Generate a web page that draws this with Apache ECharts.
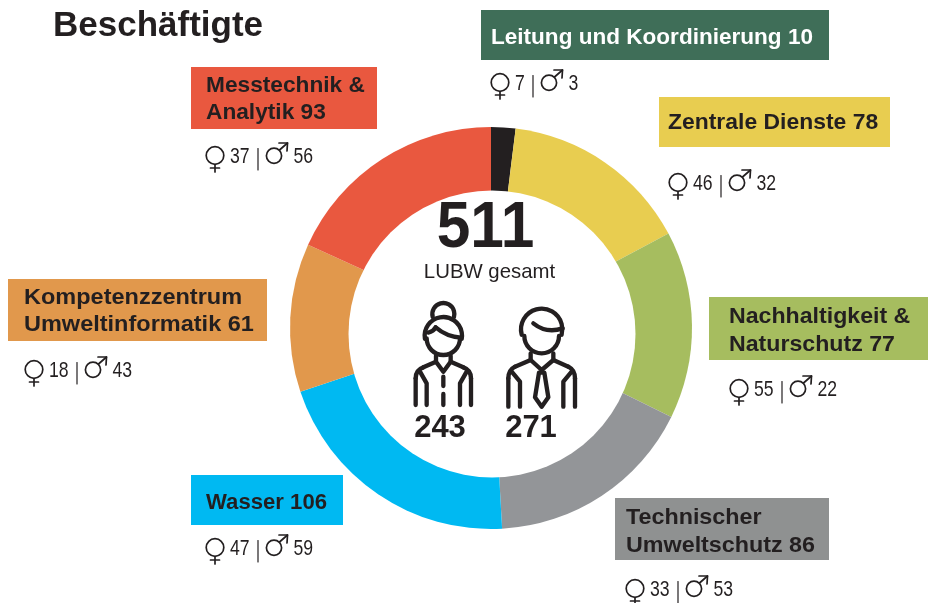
<!DOCTYPE html>
<html>
<head>
<meta charset="utf-8">
<script src="https://cdn.jsdelivr.net/npm/echarts@6/dist/echarts.min.js"></script>
<style>
html,body{margin:0;padding:0;background:#fff}
#main{width:928px;height:603px}
</style>
</head>
<body>
<div id="main"></div>
<script>
// ring order, clockwise from the top
var categories = ['Leitung und Koordinierung', 'Zentrale Dienste', 'Nachhaltigkeit &\nNaturschutz', 'Technischer\nUmweltschutz', 'Wasser', 'Kompetenzzentrum\nUmweltinformatik', 'Messtechnik &\nAnalytik'];
var totals = [10, 78, 77, 86, 106, 61, 93];
var female = [7, 46, 55, 33, 47, 18, 37];
var male = [3, 32, 22, 53, 59, 43, 56];
var colors = ['#231f20', '#e8cd50', '#a6bd5f', '#939598', '#00b9f2', '#e1984c', '#e9583f'];
var boxColors = ['#3f6e58', '#e8cd50', '#a6bd5f', '#8f9191', '#00b9f2', '#e1984c', '#e9583f'];
var labelColors = ['#ffffff', '#231f20', '#231f20', '#231f20', '#231f20', '#231f20', '#231f20'];
var grandTotal = 511;
var womenTotal = 243;
var menTotal = 271;

// box: x, y, w, h, text x, text y  -  legend: x of the female sign, y
var boxes = [[481, 10, 348, 50, 491, 38], [659, 97, 231, 50, 668, 123], [709, 297, 219, 63, 729, 330.5], [615, 498, 214, 62, 626, 531.5], [191, 475, 152, 50, 206, 503], [8, 279, 259, 62, 24, 311], [191, 67, 186, 62, 206, 99]];
var labelStretch = [0.994, 1.01, 1.02, 1.027, 0.976, 1.036, 1];
var legends = [[500, 84], [678, 184], [739, 390], [635, 590], [215, 549], [34, 371], [215, 157]];

var dark = '#231f20';
var sans = '"Liberation Sans", Arial, sans-serif';
var iconWidth = 13;

function lineStyle(w) {
    return { fill: null, stroke: dark, lineWidth: w, lineCap: 'round', lineJoin: 'round' };
}

function txt(x, y, text, font, color, align) {
    return {
        type: 'text',
        x: x,
        y: y,
        style: { text: text, font: font, fill: color || dark, align: align || 'left', verticalAlign: 'middle', lineHeight: 27.5 }
    };
}

// condensed look, there is no narrow font installed
function narrowTxt(x, y, text, size, align, sx) {
    var t = txt(x, y, text, size + 'px ' + sans, dark, align);
    t.scaleX = sx;
    return t;
}

// icon pieces, in a 3x grid
function poly(points) {
    return { type: 'polyline', shape: { points: points }, style: lineStyle(iconWidth) };
}
function curve(x1, y1, cx, cy, x2, y2) {
    return { type: 'bezierCurve', shape: { x1: x1, y1: y1, cpx1: cx, cpy1: cy, x2: x2, y2: y2 }, style: lineStyle(iconWidth) };
}
function arc(cx, cy, r, from, to) {
    return { type: 'arc', shape: { cx: cx, cy: cy, r: r, startAngle: from * Math.PI / 180, endAngle: to * Math.PI / 180, clockwise: true }, style: lineStyle(iconWidth) };
}

// little female and male signs next to the counts
function femaleSign(x, y) {
    return [
        { type: 'circle', shape: { cx: x, cy: y - 1.5, r: 8.8 }, style: lineStyle(1.7) },
        { type: 'line', shape: { x1: x, y1: y + 7.5, x2: x, y2: y + 15 }, style: lineStyle(1.7) },
        { type: 'line', shape: { x1: x - 4.5, y1: y + 11, x2: x + 4.5, y2: y + 11 }, style: lineStyle(1.7) }
    ];
}

function maleSign(x, y) {
    return [
        { type: 'circle', shape: { cx: x, cy: y - 1.3, r: 7.6 }, style: lineStyle(1.7) },
        { type: 'line', shape: { x1: x + 5.5, y1: y - 7, x2: x + 13.5, y2: y - 14 }, style: lineStyle(1.7) },
        { type: 'polyline', shape: { points: [[x + 5, y - 14], [x + 13.5, y - 14], [x + 13, y - 6]] }, style: lineStyle(1.7) }
    ];
}

var elements = [];
// the hole sits a little below the ring's centre
elements.push({ type: 'circle', shape: { cx: 492, cy: 334, r: 143.5 }, style: { fill: '#ffffff' } });
elements.push(txt(53, 26, 'Beschäftigte', 'bold 35px ' + sans));
var bigNumber = txt(485.5, 229, String(grandTotal), 'bold 65px ' + sans, dark, 'center');
bigNumber.scaleX = 0.93;
elements.push(bigNumber);
elements.push(narrowTxt(489.5, 272, 'LUBW gesamt', 21, 'center', 0.97));
elements.push(txt(440, 428, String(womenTotal), 'bold 31px ' + sans, dark, 'center'));
elements.push(txt(531, 428, String(menTotal), 'bold 31px ' + sans, dark, 'center'));

categories.forEach(function (name, i) {
    var b = boxes[i];
    var l = legends[i];
    elements.push({ type: 'rect', shape: { x: b[0], y: b[1], width: b[2], height: b[3] }, style: { fill: boxColors[i] } });
    var label = txt(b[4], b[5], name + ' ' + totals[i], 'bold 22.7px ' + sans, labelColors[i]);
    label.scaleX = labelStretch[i];
    elements.push(label);

    // the male part shifts with the width of the female count
    var f = String(female[i]);
    var numX = l[0] + 15;
    var barX = numX + f.length * 10 + 8;
    elements = elements.concat(femaleSign(l[0], l[1]));
    elements.push(narrowTxt(numX, l[1], f, 21.5, 'left', 0.82));
    elements.push({ type: 'line', shape: { x1: barX, y1: l[1] - 8.5, x2: barX, y2: l[1] + 13 }, style: lineStyle(1.2) });
    elements = elements.concat(maleSign(barX + 16, l[1]));
    elements.push(narrowTxt(barX + 35.5, l[1], String(male[i]), 21.5, 'left', 0.82));
});

// woman and man
elements.push({
    type: 'group',
    x: 400,
    y: 190,
    scaleX: 1 / 3,
    scaleY: 1 / 3,
    children: [
        // woman
        arc(130, 372, 33, 165, 15),
        arc(130, 437, 56, 170, 10),
        curve(85, 428, 100, 425, 107, 412),
        curve(107, 412, 140, 440, 183, 443),
        arc(130, 445, 50, 0, 180),
        poly([[108, 497], [108, 515], [130, 545], [152, 515], [152, 497]]),
        poly([[108, 515], [70, 532]]),
        curve(70, 532, 47, 540, 47, 565),
        poly([[47, 565], [47, 645]]),
        poly([[152, 515], [190, 532]]),
        curve(190, 532, 213, 540, 213, 565),
        poly([[213, 565], [213, 645]]),
        poly([[60, 545], [80, 580], [80, 645]]),
        poly([[200, 545], [180, 580], [180, 645]]),
        poly([[130, 560], [130, 588]]),
        poly([[130, 612], [130, 645]]),
        // man
        arc(425, 418, 62, 165, 15),
        curve(400, 400, 440, 432, 488, 415),
        arc(425, 438, 52, 0, 180),
        poly([[392, 490], [392, 510], [425, 540], [460, 510], [460, 490]]),
        poly([[392, 510], [345, 530]]),
        curve(345, 530, 325, 540, 325, 565),
        poly([[325, 565], [325, 650]]),
        poly([[460, 510], [505, 530]]),
        curve(505, 530, 525, 540, 525, 565),
        poly([[525, 565], [525, 650]]),
        poly([[335, 545], [360, 575], [360, 650]]),
        poly([[515, 545], [490, 575], [490, 650]]),
        poly([[417, 548], [405, 622], [425, 650], [445, 622], [433, 548], [417, 548]])
    ]
});

var myChart = echarts.init(document.getElementById('main'));

var option = {
    animation: false,
    backgroundColor: '#ffffff',
    series: [{
        type: 'pie',
        silent: true,
        z: -1,
        center: [491, 328],
        radius: [0, 201],
        startAngle: 90,
        clockwise: true,
        label: { show: false },
        labelLine: { show: false },
        data: categories.map(function (name, i) {
            return { name: name, value: totals[i], itemStyle: { color: colors[i] } };
        })
    }],
    graphic: { elements: elements }
};

myChart.setOption(option);
</script>
</body>
</html>
